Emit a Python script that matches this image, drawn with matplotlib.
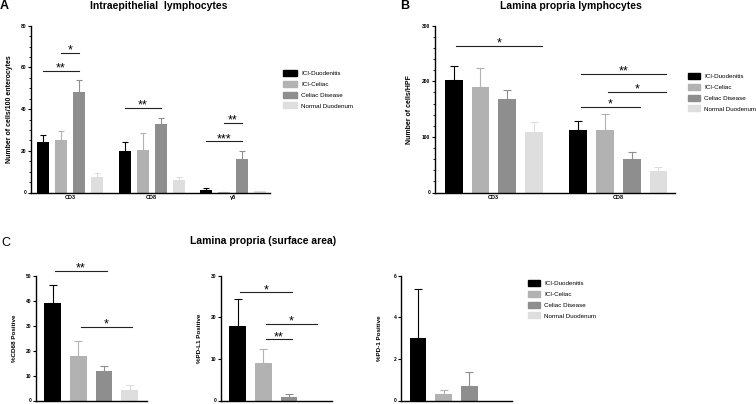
import matplotlib
matplotlib.use('Agg')
import matplotlib.pyplot as plt
from matplotlib.patches import Patch

plt.rcParams['font.family'] = ['Liberation Sans', 'DejaVu Sans']

# groups / series
series = ['ICI-Duodenitis', 'ICI-Celiac', 'Celiac Disease', 'Normal Duodenum']
colors = ['#000000', '#b2b2b2', '#8e8e8e', '#dedede']

# Panel A: intraepithelial lymphocytes (cells/100 enterocytes)
a_groups = ['CD3', 'CD8', 'γδ']
a_mean = [[24, 25, 48, 7.5],
          [20, 20.3, 33, 5.8],
          [1.2, 0.3, 16.3, 0.5]]
a_err = [[3.5, 4.5, 6, 2],
         [4, 8, 2.5, 1.4],
         [0.8, 0.1, 3.7, 0.3]]
a_sig = [(0, 0, 2, 58.4, '**'), (0, 1, 2, 67, '*'), (1, 0, 2, 40.5, '**'),
         (2, 1, 2, 33.3, '**'), (2, 0, 2, 24.6, '***')]

# Panel B: lamina propria lymphocytes (cells/HPF)
b_groups = ['CD3', 'CD8']
b_mean = [[203, 189, 169, 109],
          [112, 113, 61, 39]]
b_err = [[24, 35, 16, 17],
         [17, 28, 11, 6]]
b_sig = [(0, 0, 3, 264, '*'), (1, 0, 3, 213, '**'), (1, 1, 3, 181, '*'),
         (1, 0, 2, 154, '*')]

# Panel C: lamina propria (surface area), None = no bar
c_labels = ['%CD68 Positive', '%PD-L1 Positive', '%PD-1 Positive']
c_ymax = [50, 30, 6]
c_step = [10, 10, 2]
c_mean = [[39, 18, 12, 4.3],
          [18, 9, 0.8, None],
          [3, 0.3, 0.7, None]]
c_err = [[7.2, 5.8, 2, 2],
         [6.3, 3.3, 0.7, None],
         [2.35, 0.2, 0.65, None]]
c_sig = [[(0, 2, 52, '**'), (1, 3, 29.6, '*')],
         [(0, 2, 26, '*'), (1, 3, 18.4, '*'), (1, 2, 14.7, '**')],
         []]

W, H = 756, 404
fig = plt.figure(figsize=(W / 100, H / 100), dpi=100)


def ax_px(left, top, right, bottom):
    return fig.add_axes([left / W, 1 - bottom / H, (right - left) / W, (bottom - top) / H])


def style(ax, ymax, major, minor=None):
    for s in ['top', 'right']:
        ax.spines[s].set_visible(False)
    for s in ['left', 'bottom']:
        ax.spines[s].set_linewidth(1.0)
    ax.set_ylim(0, ymax)
    ax.set_yticks(range(0, ymax + 1, major))
    if minor:
        ax.set_yticks(range(0, ymax + 1, minor), minor=True)
    ax.tick_params(axis='y', which='major', length=2.5, width=0.8, labelsize=3.5, pad=1)
    ax.tick_params(axis='y', which='minor', length=1.5, width=0.6)
    ax.tick_params(axis='x', length=0, labelsize=4, pad=1.5)
    for t in ax.get_yticklabels():
        t.set_fontweight('bold')


def bars(ax, means, errs, gap, width, capsize):
    centers = []
    for g, (m, e) in enumerate(zip(means, errs)):
        row = []
        for i in range(len(series)):
            x = g * gap + i
            row.append(x)
            if m[i] is None:
                continue
            ax.bar(x, m[i], width, color=colors[i], zorder=2)
            ax.errorbar(x, m[i], yerr=[[0], [e[i]]], color=colors[i], capsize=capsize,
                        elinewidth=0.8, capthick=0.8, zorder=1)
        centers.append(row)
    return centers


def sig(ax, x0, x1, y, label, fs=9):
    ax.plot([x0, x1], [y, y], color='#222222', lw=0.8, clip_on=False)
    ax.annotate(label, ((x0 + x1) / 2, y), xytext=(0, -0.6), textcoords='offset points',
                ha='center', va='baseline', fontsize=fs, annotation_clip=False)


# ---- A
axA = ax_px(31, 25.7, 270, 192.5)
gapA = 4.53
cA = bars(axA, a_mean, a_err, gapA, 0.667, 2.2)
style(axA, 80, 20, 5)
axA.set_xlim(-0.67, 12.61)
axA.set_xticks([g * gapA + 1.5 for g in range(len(a_groups))])
axA.set_xticklabels(a_groups, fontweight='bold')
axA.set_ylabel('Number of cells/100 enterocytes', fontsize=5, fontweight='bold')
axA.yaxis.set_label_coords(-18 / 239, 0.5)
for g, i, j, y, lab in a_sig:
    sig(axA, cA[g][i], cA[g][j], y, lab)

# ---- B
axB = ax_px(435, 25.7, 675, 192.5)
gapB = 4.66
cB = bars(axB, b_mean, b_err, gapB, 0.66, 3.2)
style(axB, 300, 100, 20)
axB.set_xlim(-0.7, 8.28)
axB.set_xticks([g * gapB + 1.5 for g in range(len(b_groups))])
axB.set_xticklabels(b_groups, fontweight='bold')
axB.set_ylabel('Number of cells/HPF', fontsize=5, fontweight='bold')
axB.yaxis.set_label_coords(-22 / 240, 0.5)
for g, i, j, y, lab in b_sig:
    sig(axB, cB[g][i] + 0.1, cB[g][j] + 0.3, y, lab)

# ---- C
c_left = [36, 221, 401.3]
for k in range(3):
    ax = ax_px(c_left[k], 275.7, c_left[k] + 110.5, 400.5)
    cc = bars(ax, [c_mean[k]], [c_err[k]], 0, 0.65, 2.8)
    style(ax, c_ymax[k], c_step[k])
    ax.set_xlim(-0.65, 3.65)
    ax.set_xticks([])
    ax.set_ylabel(c_labels[k], fontsize=4.5, fontweight='bold')
    ax.yaxis.set_label_coords(-19 / 110.5, 0.5)
    for i, j, y, lab in c_sig[k]:
        sig(ax, cc[0][i] + 0.1, cc[0][j] + 0.1, y, lab)

# legends
handles = [Patch(color=c, label=s) for c, s in zip(colors, series)]
for lx, ly, hl in [(283, 70, 2.2), (688, 73, 1.9), (528, 280, 1.9)]:
    fig.legend(handles=handles, loc='upper left', bbox_to_anchor=(lx / W, 1 - ly / H),
               frameon=False, fontsize=4.5, handlelength=hl, handleheight=1.1,
               handletextpad=0.7, labelspacing=0.75, borderpad=0, borderaxespad=0)

# titles and panel letters
fig.text(159 / W, 1 - 6 / H, 'Intraepithelial  lymphocytes', fontsize=7.5, fontweight='bold',
         ha='center', va='center')
fig.text(571 / W, 1 - 6 / H, 'Lamina propria lymphocytes', fontsize=7.5, fontweight='bold',
         ha='center', va='center')
fig.text(263 / W, 1 - 241.5 / H, 'Lamina propria (surface area)', fontsize=7.5, fontweight='bold',
         ha='center', va='center')
fig.text(0 / W, 1 - 6 / H, 'A', fontsize=9, fontweight='bold', ha='left', va='center')
fig.text(400 / W, 1 - 6 / H, 'B', fontsize=9, fontweight='bold', ha='left', va='center')
fig.text(1.5 / W, 1 - 242.5 / H, 'C', fontsize=9, ha='left', va='center')

fig.savefig('out.png', dpi=100)
